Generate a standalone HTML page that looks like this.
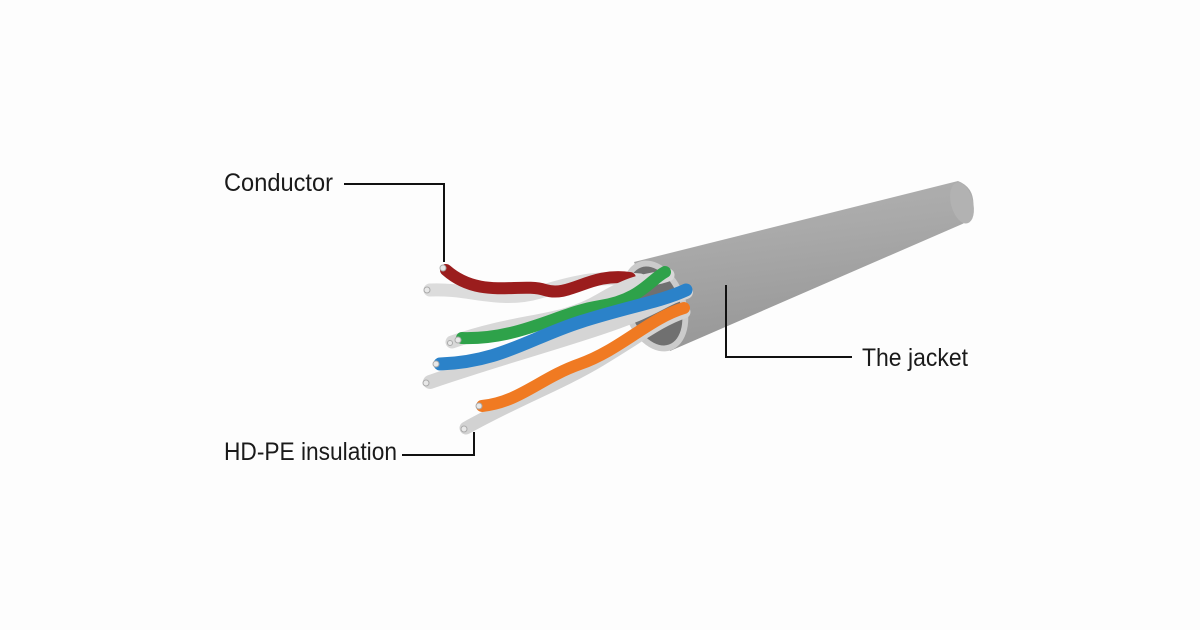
<!DOCTYPE html>
<html><head><meta charset="utf-8"><style>html,body{margin:0;padding:0;background:#fdfdfd}svg{display:block}</style></head><body>
<svg width="1200" height="630" viewBox="0 0 1200 630" xmlns="http://www.w3.org/2000/svg">
<defs>
<linearGradient id="jk" x1="0" y1="0" x2="0.25" y2="1">
<stop offset="0" stop-color="#b3b3b3"/><stop offset="0.4" stop-color="#a9a9a9"/><stop offset="1" stop-color="#979797"/>
</linearGradient>
</defs>
<rect width="1200" height="630" fill="#fdfdfd"/>
<!-- jacket -->
<path d="M634,262 L958,181 Q976,188 973,210 Q969,222 960,225 L670,351 Z" fill="url(#jk)"/>
<ellipse cx="962" cy="203" rx="11" ry="21" transform="rotate(-15 962 203)" fill="#b2b2b2"/>
<ellipse cx="655" cy="306" rx="31" ry="47" transform="rotate(-20 655 306)" fill="#cbcbcb"/>
<ellipse cx="655" cy="306" rx="25" ry="41" transform="rotate(-20 655 306)" fill="#707070"/>
<!-- wires -->
<g fill="none" stroke-linecap="round">
<path d="M430,290 C470,288 500,304 540,292 S600,276 640,280" stroke="#dcdcdc" stroke-width="13"/>
<path d="M446,270 C480,300 520,282 545,290 S590,272 630,278" stroke="#9b1d1d" stroke-width="12"/>
<path d="M452,342 C520,318 560,324 600,300 S650,282 668,275" stroke="#d8d8d8" stroke-width="13"/>
<path d="M462,338 C520,340 560,312 600,306 S650,280 665,272" stroke="#2ea24a" stroke-width="12"/>
<path d="M430,382 C500,358 540,348 600,328 S660,300 686,292" stroke="#d5d5d5" stroke-width="14"/>
<path d="M440,364 C500,362 530,338 580,322 S660,302 686,290" stroke="#2b82c9" stroke-width="13"/>
<path d="M466,428 C520,398 560,384 600,360 S660,320 684,312" stroke="#d2d2d2" stroke-width="13"/>
<path d="M482,406 C520,402 540,378 580,364 S650,318 684,308" stroke="#f07a22" stroke-width="12"/>
</g>
<g fill="#e8e8e8" stroke="#aaa" stroke-width="1">
<circle cx="443" cy="268" r="3"/><circle cx="427" cy="290" r="3"/><circle cx="458" cy="340" r="3"/><circle cx="450" cy="343" r="2.5"/>
<circle cx="436" cy="364" r="3"/><circle cx="426" cy="383" r="3"/><circle cx="479" cy="406" r="3"/><circle cx="464" cy="429" r="3"/>
</g>
<g fill="none" stroke="#111" stroke-width="2">
<polyline points="344,184 444,184 444,262"/>
<polyline points="402,455 474,455 474,432"/>
<polyline points="726,285 726,357 852,357"/>
</g>
<g font-family="'Liberation Sans',sans-serif" font-size="25" fill="#1a1a1a">
<text x="224" y="191" textLength="109" lengthAdjust="spacingAndGlyphs">Conductor</text>
<text x="224" y="460" textLength="173" lengthAdjust="spacingAndGlyphs">HD-PE insulation</text>
<text x="862" y="366" textLength="106" lengthAdjust="spacingAndGlyphs">The jacket</text>
</g>
</svg>
</body></html>
